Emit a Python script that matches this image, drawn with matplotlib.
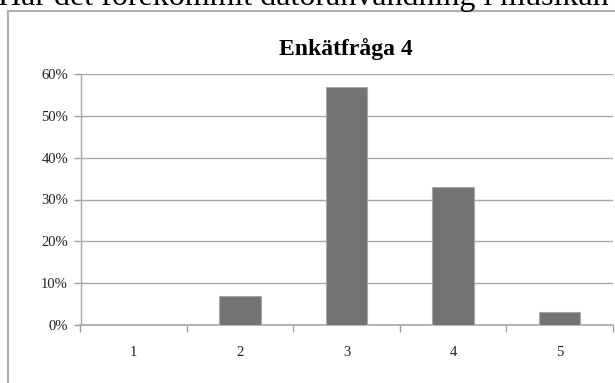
import matplotlib
matplotlib.use("Agg")
import matplotlib.pyplot as plt
from matplotlib.patches import Rectangle
from matplotlib.ticker import FixedLocator, PercentFormatter

categories = ["1", "2", "3", "4", "5"]
values = [0, 7, 57, 33, 3]
yticks = [0, 10, 20, 30, 40, 50, 60]
title = "Enkätfråga 4"
header = "Har det förekommit datoranvändning i musikan"

fig = plt.figure(figsize=(6.15, 3.83), dpi=100)
W, H = 615, 383

# outer chart frame
fig.patches.append(Rectangle((8 / W, -0.05), 1.0, (383 - 11) / H + 0.05,
                             transform=fig.transFigure, fill=False,
                             edgecolor="#b0b0b0", linewidth=1.5))

# header text (cut off at top, as in the reference)
fig.text(-2 / W, 1 - 5 / H, header, fontsize=23, family="Liberation Serif",
         ha="left", va="baseline", color="black")

ax = fig.add_axes([80.5 / W, 58 / H, 532 / W, 251 / H])
x = list(range(len(categories)))
ax.bar(x, values, width=0.39, color="#737373", edgecolor="#a8a8a8",
       linewidth=0.8, zorder=3)
ax.set_xlim(-0.5, len(categories) - 0.5)
ax.set_ylim(0, 60)
ax.set_yticks(yticks)
ax.yaxis.set_major_formatter(PercentFormatter(decimals=0))
ax.set_xticks(x)
ax.set_xticklabels(categories)
ax.xaxis.set_minor_locator(FixedLocator([i - 0.5 for i in range(len(categories) + 1)]))
ax.tick_params(axis="x", which="major", length=0, pad=15, labelsize=10.5)
ax.tick_params(axis="x", which="minor", length=5, color="#a0a0a0", width=1)
ax.tick_params(axis="y", length=5, color="#a0a0a0", width=1, pad=4, labelsize=10.5)
for lab in ax.get_xticklabels() + ax.get_yticklabels():
    lab.set_family("Liberation Serif")
    lab.set_color("#222222")
ax.grid(axis="y", color="#a8a8a8", linewidth=1, zorder=0)
for s in ["top", "right"]:
    ax.spines[s].set_visible(False)
ax.spines["left"].set_color("#a8a8a8")
ax.spines["bottom"].set_color("#a8a8a8")
ax.spines["left"].set_linewidth(1)
ax.spines["bottom"].set_linewidth(1.2)
ax.patch.set_alpha(0)

fig.text(346 / W, 1 - 49 / H, title, fontsize=17, fontweight="bold",
         family="Liberation Serif", ha="center", va="center")

fig.savefig("out.png", dpi=100)
